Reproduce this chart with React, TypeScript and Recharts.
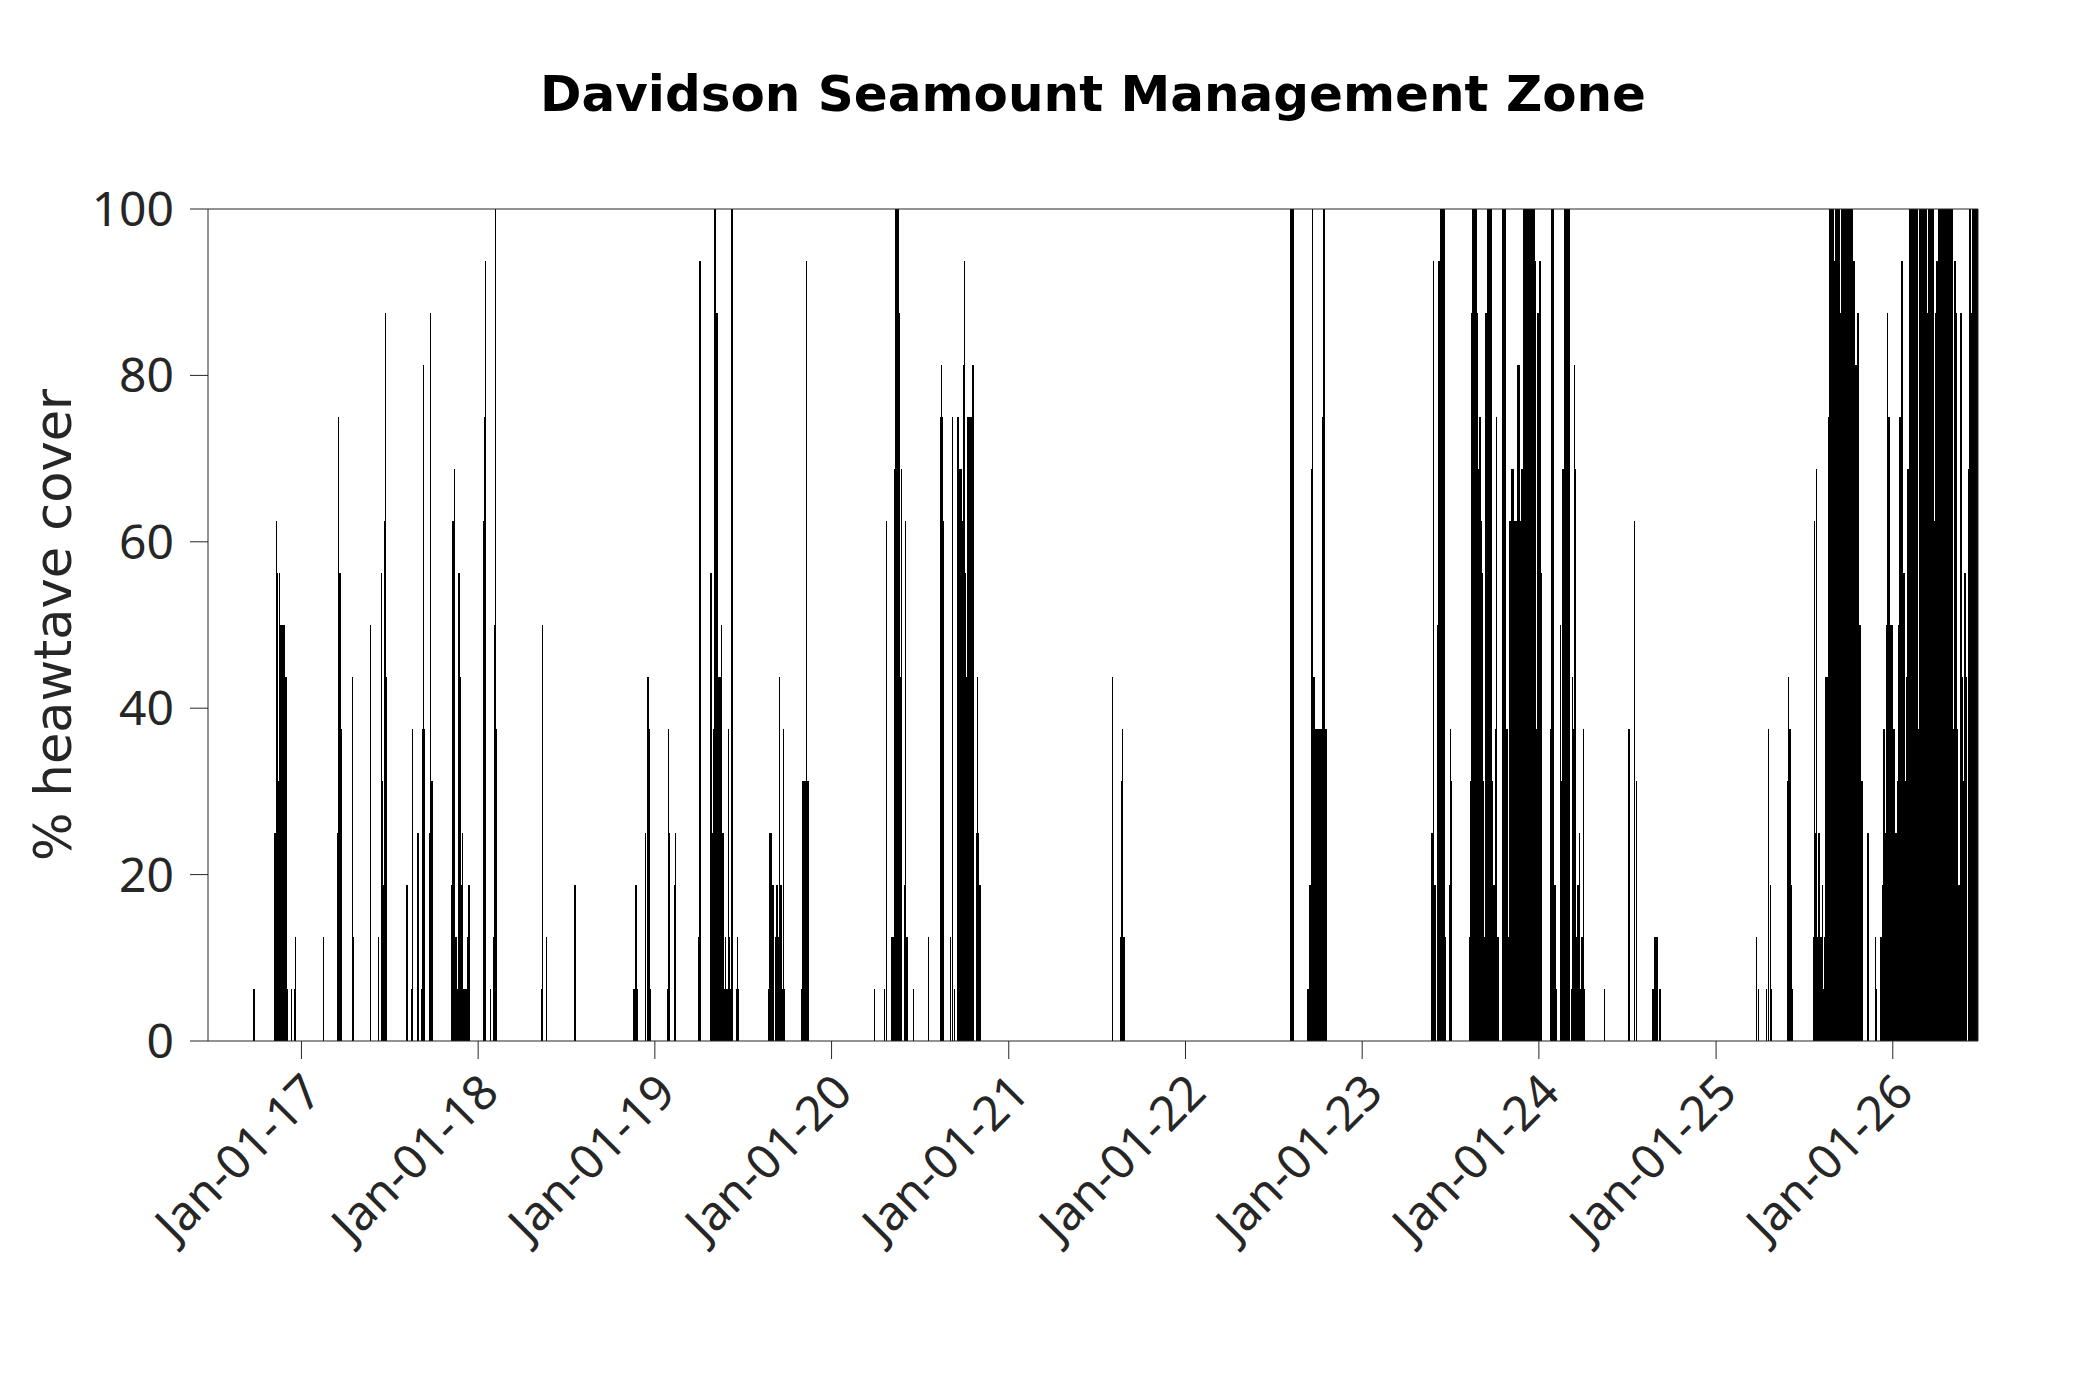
import React from 'react';
import { BarChart, Bar, XAxis, YAxis } from 'recharts';

type Burst = [string, number[]];

// Each burst: first day (yyyy-mm-dd) and the daily % heatwave cover
const bursts2016: Burst[] = [
  ['2016-09-25', [6.25]],
  ['2016-11-07', [25, 25, 25, 56.25, 62.5, 56.25, 31.25, 31.25, 31.25, 50, 56.25, 50, 50, 50, 50, 50, 50, 50, 50, 43.75, 50, 43.75, 43.75, 43.75, 18.75, 18.75, 6.25, 6.25]],
  ['2016-12-11', [6.25]],
  ['2016-12-17', [6.25, 0, 12.5, 12.5]],
];

const bursts2017: Burst[] = [
  ['2017-02-15', [12.5]],
  ['2017-03-16', [25, 25, 56.25, 75, 56.25, 56.25, 56.25, 56.25, 37.5, 37.5]],
  ['2017-04-17', [43.75, 12.5]],
  ['2017-05-24', [50]],
  ['2017-06-10', [12.5]],
  ['2017-06-16', [56.25, 31.25, 18.75, 18.75, 18.75, 18.75, 62.5, 87.5, 43.75, 43.75, 43.75]],
  ['2017-08-07', [18.75]],
  ['2017-08-17', [6.25, 37.5]],
  ['2017-08-29', [6.25, 25]],
  ['2017-09-06', [6.25, 6.25, 37.5, 37.5, 81.25, 37.5, 37.5, 37.5]],
  ['2017-09-23', [25, 25, 87.5, 31.25, 31.25, 31.25]],
  ['2017-11-07', [18.75, 18.75, 18.75, 62.5, 62.5, 62.5, 68.75, 68.75, 12.5, 12.5, 12.5, 6.25, 6.25, 6.25, 56.25, 56.25, 56.25, 43.75, 43.75, 18.75, 18.75, 18.75, 25, 6.25, 6.25, 6.25, 6.25, 6.25, 6.25, 6.25, 6.25, 6.25, 6.25, 12.5, 12.5, 12.5, 18.75, 6.25, 6.25]],
];

const bursts2018: Burst[] = [
  ['2018-01-12', [62.5, 62.5, 75, 62.5, 93.75]],
  ['2018-01-27', [6.25]],
  ['2018-02-02', [12.5, 12.5, 50, 37.5, 100, 37.5, 37.5]],
  ['2018-05-13', [6.25, 50]],
  ['2018-05-23', [12.5]],
  ['2018-07-20', [18.75]],
  ['2018-11-19', [6.25, 0, 6.25, 6.25, 18.75, 6.25, 6.25, 6.25, 6.25]],
  ['2018-12-12', [25]],
  ['2018-12-18', [43.75, 18.75, 18.75, 37.5, 6.25, 6.25]],
];

const bursts2019: Burst[] = [
  ['2019-01-28', [6.25, 6.25, 37.5, 25]],
  ['2019-02-11', [18.75, 18.75, 25]],
  ['2019-04-02', [12.5, 12.5, 93.75, 93.75]],
  ['2019-04-26', [6.25, 56.25, 6.25, 25, 25, 25, 37.5, 37.5, 37.5, 100, 100, 100, 87.5, 87.5, 87.5, 37.5, 37.5, 43.75, 43.75, 43.75, 43.75, 31.25, 50, 25, 25, 25, 25, 25, 6.25, 6.25, 6.25, 12.5, 6.25, 6.25, 6.25, 6.25, 6.25, 37.5, 12.5, 12.5, 12.5, 6.25, 6.25, 6.25, 100, 100, 100, 0, 0, 0, 0, 0, 0, 0, 6.25, 6.25, 12.5, 6.25, 6.25]],
  ['2019-08-24', [6.25, 6.25, 25, 18.75, 18.75, 25, 18.75, 18.75, 18.75, 18.75, 0, 0, 0, 0, 12.5, 12.5, 12.5, 18.75, 18.75, 18.75, 12.5, 12.5, 43.75, 18.75, 18.75, 18.75, 18.75, 18.75, 6.25, 6.25, 37.5, 6.25, 6.25]],
  ['2019-10-31', [6.25, 6.25, 6.25, 31.25, 25, 12.5, 12.5, 31.25, 31.25, 31.25, 31.25, 93.75, 31.25, 31.25, 31.25, 31.25]],
];

const bursts2020: Burst[] = [
  ['2020-03-30', [6.25]],
  ['2020-04-19', [6.25, 0, 0, 0, 62.5]],
  ['2020-05-05', [12.5, 12.5, 12.5, 0, 0, 0, 68.75, 68.75, 100, 100, 100, 100, 100, 100, 87.5, 87.5, 43.75, 43.75, 31.25, 31.25, 68.75, 0, 0, 0, 0, 0, 18.75, 18.75, 62.5, 12.5, 12.5, 12.5]],
  ['2020-06-18', [6.25]],
  ['2020-07-19', [12.5]],
  ['2020-08-14', [75, 81.25, 75, 62.5, 62.5, 62.5]],
  ['2020-09-03', [12.5, 0, 0, 0, 75, 0, 0, 0, 6.25]],
  ['2020-09-17', [68.75, 75, 68.75, 68.75, 68.75, 68.75, 68.75, 68.75, 68.75, 62.5, 62.5, 62.5, 68.75, 81.25, 68.75, 93.75, 56.25, 56.25, 43.75, 43.75, 31.25, 31.25, 75, 6.25, 6.25, 6.25, 75, 75, 75, 75, 75, 37.5, 81.25, 37.5, 0, 0, 0, 0, 0, 0, 25, 25, 43.75, 25, 25, 18.75, 18.75, 18.75]],
];

const bursts2021: Burst[] = [
  ['2021-08-04', [43.75]],
  ['2021-08-20', [12.5, 12.5, 31.25, 31.25, 37.5, 6.25, 6.25, 12.5]],
];

const bursts2022: Burst[] = [
  ['2022-08-07', [100, 100, 100, 100, 100, 31.25, 31.25]],
  ['2022-09-11', [6.25, 0, 6.25, 18.75, 18.75, 18.75, 18.75, 18.75, 68.75, 100, 68.75, 43.75, 43.75, 43.75, 43.75, 37.5, 37.5, 37.5, 37.5, 37.5, 37.5, 37.5, 37.5, 12.5, 37.5, 12.5, 37.5, 37.5, 37.5, 12.5, 75, 12.5, 100, 100, 100, 100, 37.5, 37.5, 37.5, 37.5]],
];

const bursts2023: Burst[] = [
  ['2023-05-25', [25, 25, 25, 43.75, 93.75, 18.75, 18.75, 18.75, 0, 0, 0, 50, 50, 50, 93.75, 93.75, 93.75, 100, 100, 100, 100, 100, 100, 100, 100, 100, 12.5, 12.5, 12.5]],
  ['2023-06-30', [18.75, 18.75, 31.25, 37.5, 31.25]],
  ['2023-08-11', [12.5, 12.5, 31.25, 31.25, 87.5, 87.5, 100, 100, 100, 100, 100, 100, 100, 100, 100, 100, 87.5, 87.5, 68.75, 68.75, 68.75, 75, 75, 62.5, 62.5, 56.25, 56.25, 31.25, 31.25, 31.25, 12.5, 12.5, 12.5, 12.5, 87.5, 87.5, 87.5, 100, 100, 68.75, 68.75, 68.75, 100, 100, 100, 31.25, 31.25, 31.25, 31.25, 18.75, 18.75, 18.75, 18.75, 37.5, 37.5, 75, 37.5, 12.5, 12.5, 12.5, 0, 0, 0, 0, 0, 0, 0, 0, 100, 100, 100, 100, 100, 100, 100, 37.5, 37.5, 37.5, 12.5, 12.5, 12.5, 12.5, 62.5, 62.5, 62.5, 62.5, 68.75, 68.75, 68.75, 68.75, 68.75, 62.5, 62.5, 62.5, 62.5, 62.5, 62.5, 62.5, 62.5, 81.25, 81.25, 81.25, 81.25, 81.25, 62.5, 62.5, 62.5, 62.5, 68.75, 68.75, 68.75, 93.75, 100, 100, 100, 100, 100, 100, 100, 100, 100, 100, 25, 100, 100, 100, 100, 100, 100, 100, 100, 100, 100, 100, 100, 93.75, 93.75, 37.5, 37.5, 37.5, 87.5, 87.5, 87.5, 87.5, 93.75, 93.75, 93.75, 56.25, 56.25, 56.25]],
];

const bursts2024: Burst[] = [
  ['2024-01-26', [37.5, 37.5, 100, 100, 100, 18.75, 18.75, 18.75, 18.75, 18.75, 6.25, 6.25]],
  ['2024-02-14', [50, 50, 31.25, 31.25, 18.75, 18.75, 68.75, 68.75, 68.75, 100, 100, 100, 87.5, 87.5, 100, 100, 100, 100, 100, 100, 100, 0, 0, 6.25, 6.25, 6.25, 43.75, 37.5, 37.5, 68.75, 81.25, 68.75, 68.75, 12.5, 12.5, 12.5, 18.75, 18.75, 18.75, 12.5, 25, 6.25, 6.25, 6.25, 12.5, 12.5, 6.25, 6.25, 37.5, 6.25, 6.25]],
  ['2024-05-16', [6.25]],
  ['2024-07-05', [37.5, 6.25, 6.25]],
  ['2024-07-16', [62.5, 0, 0, 0, 31.25]],
  ['2024-08-23', [6.25, 6.25, 6.25, 0, 0, 12.5, 12.5, 12.5, 12.5, 12.5, 0, 0, 0, 0, 6.25, 6.25, 6.25]],
];

const bursts2025: Burst[] = [
  ['2025-03-26', [12.5, 0, 0, 0, 6.25]],
  ['2025-04-15', [6.25, 0, 0, 0, 0, 37.5, 0, 0, 0, 18.75, 6.25, 6.25]],
  ['2025-05-29', [31.25, 31.25, 43.75, 37.5, 37.5, 37.5, 18.75, 18.75, 12.5, 0, 6.25]],
  ['2025-07-21', [12.5, 12.5, 62.5, 25, 25, 25, 68.75, 12.5, 12.5, 12.5, 12.5, 25, 25, 25, 12.5, 12.5, 12.5, 6.25, 6.25, 18.75, 6.25, 6.25, 6.25, 12.5, 12.5, 43.75, 43.75, 43.75, 43.75, 31.25, 31.25, 75, 75, 75, 100, 100, 100, 100, 100, 100, 100, 100, 100, 93.75, 93.75, 93.75, 100, 100, 100, 100, 100, 100, 100, 100, 100, 87.5, 87.5]],
  ['2025-09-16', [87.5, 87.5, 100, 100, 100, 100, 100, 100, 100, 100, 100, 100, 100, 100, 100, 100, 100, 100, 100, 100, 100, 100, 100, 100, 100, 93.75, 93.75, 93.75, 56.25, 56.25, 56.25, 81.25, 81.25, 81.25, 81.25, 87.5, 37.5, 37.5, 37.5, 50, 50, 50, 31.25, 31.25, 31.25, 6.25, 0, 0, 0, 0, 0, 0, 0, 0, 0, 25, 25, 0, 0, 0, 0, 0, 0, 0, 0, 0, 0, 0, 0, 0, 0, 12.5, 12.5, 6.25, 6.25, 0, 0, 0, 0, 0, 0, 0, 12.5, 12.5, 12.5, 18.75, 18.75, 18.75, 37.5, 37.5, 37.5, 25, 25, 25, 50, 50, 87.5, 50, 75, 75, 75, 50, 50, 50, 50, 50, 50, 50, 37.5, 37.5, 37.5, 25, 25, 25, 25, 25, 31.25, 31.25, 31.25, 50, 50, 50, 75, 75, 75, 62.5, 93.75, 62.5, 56.25, 56.25, 56.25, 31.25, 31.25, 31.25, 31.25, 43.75, 43.75, 43.75, 68.75, 68.75, 68.75, 100, 100, 100, 100, 100, 100, 100, 100, 100, 100, 100, 100, 100, 100, 100, 100, 100, 37.5, 37.5, 37.5, 0, 100, 100, 100, 100, 100, 100, 100, 100, 100, 100, 100, 100, 100, 100, 100, 100]],
];

const bursts2026: Burst[] = [
  ['2026-03-13', [87.5, 87.5, 68.75, 37.5, 100, 100, 100, 100, 100, 100, 100, 100, 100, 100, 62.5, 62.5, 62.5, 87.5, 87.5, 87.5, 93.75, 93.75, 93.75, 100, 100, 100, 100, 100, 100, 100, 100, 100, 100, 100, 100, 100, 100, 100, 100, 100, 100, 100, 100, 100, 100, 100, 100, 100, 100, 100, 100, 100, 100, 100, 37.5, 37.5, 37.5, 93.75, 93.75, 87.5, 87.5, 87.5, 37.5, 37.5, 12.5, 12.5, 18.75, 18.75, 18.75, 81.25, 87.5, 43.75, 43.75, 43.75, 18.75, 31.25, 18.75, 31.25, 56.25, 31.25, 43.75, 43.75, 43.75, 0, 0, 68.75, 68.75, 68.75, 100, 100, 100, 87.5, 87.5, 87.5, 100, 100, 100, 100, 100, 0, 100, 100, 100, 100, 100]],
];

const xDomainDates = ['2016-06-22', '2026-06-26'];
const xTickDates = ['2017-01-01', '2018-01-01', '2019-01-01', '2020-01-01', '2021-01-01', '2022-01-01', '2023-01-01', '2024-01-01', '2025-01-01', '2026-01-01'];
const xTickLabels = ['Jan-01-17', 'Jan-01-18', 'Jan-01-19', 'Jan-01-20', 'Jan-01-21', 'Jan-01-22', 'Jan-01-23', 'Jan-01-24', 'Jan-01-25', 'Jan-01-26'];
const yTicks = [0, 20, 40, 60, 80, 100];

const TITLE = 'Davidson Seamount Management Zone';
const Y_LABEL = '% heawtave cover';

const DAY_MS = 86400000;
const toDay = (s: string) => Math.round(Date.parse(s + 'T00:00:00Z') / DAY_MS);

const allBursts: Burst[] = [
  ...bursts2016, ...bursts2017, ...bursts2018, ...bursts2019, ...bursts2020,
  ...bursts2021, ...bursts2022, ...bursts2023, ...bursts2024, ...bursts2025, ...bursts2026,
];

const data = allBursts
  .flatMap(([start, vals]) => vals.map((v, i) => ({ t: toDay(start) + i, v })))
  .filter((d) => d.v > 0);

const xDomain = [toDay(xDomainDates[0]), toDay(xDomainDates[1])];
const xTicks = xTickDates.map(toDay);
const labelFor = (t: number) => {
  const i = xTicks.indexOf(t);
  return i >= 0 ? xTickLabels[i] : '';
};

const FONT = "'Noto Sans', 'DejaVu Sans', sans-serif";
const DJV = "'DejaVu Sans', sans-serif";
const AX = '#262626';

const XTick = (props: any) => {
  const { x, y, payload } = props;
  return (
    <text
      transform={`translate(${x + 23},${y + 34}) rotate(-45)`}
      textAnchor="end"
      fontSize={48}
      fontFamily={FONT}
      fill={AX}
    >
      {labelFor(payload.value)}
    </text>
  );
};

const BarShape = (p: any) => {
  const { x, y, width, height } = p;
  if (!height || height <= 0 || x == null) return null;
  const w = Math.max(width || 0, 1.2);
  return <rect x={x + (width || 0) / 2 - w / 2} y={y} width={w} height={height} fill="#000" shapeRendering="crispEdges" />;
};

export default function App() {
  return (
    <div style={{ position: 'absolute', left: 0, top: 0, width: 2083, height: 1389, background: '#fff' }}>
      <BarChart
        width={2083}
        height={1389}
        data={data}
        margin={{ top: 191, right: 87, bottom: 98, left: 88 }}
        barSize={1}
      >
        <XAxis
          xAxisId="b"
          dataKey="t"
          type="number"
          domain={xDomain}
          allowDataOverflow
          ticks={xTicks}
          interval={0}
          height={250}
          tickSize={18}
          stroke={AX}
          tick={<XTick />}
        />
        <XAxis
          xAxisId="top"
          orientation="top"
          dataKey="t"
          type="number"
          domain={xDomain}
          allowDataOverflow
          ticks={xTicks}
          interval={0}
          height={18}
          tickSize={18}
          stroke={AX}
          tick={false}
        />
        <YAxis
          yAxisId="l"
          domain={[0, 100]}
          ticks={yTicks}
          interval={0}
          width={120}
          tickSize={18}
          tickMargin={16}
          stroke={AX}
          tick={{ fontSize: 48, fill: AX, fontFamily: FONT }}
        />
        <YAxis
          yAxisId="r"
          orientation="right"
          domain={[0, 100]}
          ticks={yTicks}
          interval={0}
          width={18}
          tickSize={18}
          stroke={AX}
          tick={false}
        />
        <Bar xAxisId="b" yAxisId="l" dataKey="v" fill="#000" isAnimationActive={false} shape={<BarShape />} />
      </BarChart>
      <svg width={2083} height={1389} style={{ position: 'absolute', left: 0, top: 0, pointerEvents: 'none' }}>
        <text x={1093} y={111} textAnchor="middle" fontSize={50} fontWeight="bold" fontFamily={DJV} fill="#000">
          {TITLE}
        </text>
        <text transform="translate(71,625) rotate(-90)" textAnchor="middle" fontSize={51} fontFamily={DJV} fill={AX}>
          {Y_LABEL}
        </text>
      </svg>
    </div>
  );
}
